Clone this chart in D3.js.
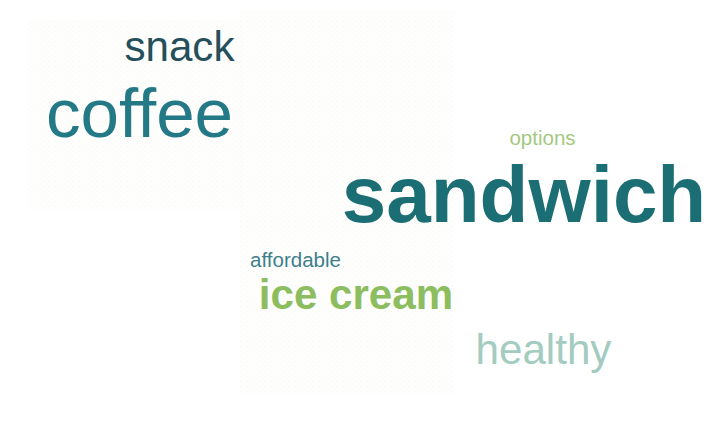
<!DOCTYPE html>
<html>
<head>
<meta charset="utf-8">
<script src="https://cdn.jsdelivr.net/npm/d3@7"></script>
<style>
  body { margin: 0; background: #fff; }
  #cloud { width: 710px; height: 423px; }
</style>
</head>
<body>
<div id="cloud"></div>
<script>
// word cloud data
let words = ["sandwich", "coffee", "snack", "ice cream", "healthy", "options", "affordable"]
let counts = [12, 10, 5, 5, 5, 1, 1]

// palette + weight per word
let wordColors = ["#1c6e75", "#237985", "#244f5b", "#8cbd5f", "#a3cbc0", "#a3c882", "#3d7f8d"]
let wordWeights = ["bold", "normal", "normal", "bold", "normal", "normal", "normal"]

// layout: centre x and baseline as a fraction of the canvas
let layoutX = [0.738, 0.1965, 0.2528, 0.5014, 0.7655, 0.7641, 0.4162]
let layoutY = [0.5248, 0.3239, 0.1442, 0.7305, 0.8605, 0.3428, 0.6312]

let width = 710, height = 423

let svg = d3.select("#cloud").append("svg")
    .attr("width", width)
    .attr("height", height)

// faint textured backdrop panels
let defs = svg.append("defs")
let pat = defs.append("pattern")
    .attr("id", "speckle")
    .attr("width", 6).attr("height", 5)
    .attr("patternUnits", "userSpaceOnUse")
pat.append("rect").attr("width", 6).attr("height", 5).attr("fill", "#fdfdfc")
pat.append("circle").attr("cx", 1.5).attr("cy", 1.5).attr("r", 0.6).attr("fill", "#f1f1ef")
pat.append("circle").attr("cx", 4.5).attr("cy", 4).attr("r", 0.5).attr("fill", "#f4f4f2")

svg.append("rect")
    .attr("x", 28).attr("y", 20).attr("width", 215).attr("height", 190)
    .attr("fill", "url(#speckle)").attr("opacity", 0.6)
svg.append("rect")
    .attr("x", 240).attr("y", 10).attr("width", 215).attr("height", 385)
    .attr("fill", "url(#speckle)").attr("opacity", 0.7)

let x = d3.scaleLinear().domain([0, 1]).range([0, width])
let y = d3.scaleLinear().domain([0, 1]).range([0, height])
let size = d3.scaleLinear().domain([1, 12]).range([20.5, 80])

let data = words.map(function (w, i) {
    return {text: w, count: counts[i], color: wordColors[i], weight: wordWeights[i], px: layoutX[i], py: layoutY[i]}
})

svg.append("g")
    .selectAll("text")
    .data(data)
    .enter().append("text")
    .attr("x", d => x(d.px))
    .attr("y", d => y(d.py))
    .attr("text-anchor", "middle")
    .attr("font-family", "'Liberation Sans', Arial, Helvetica, sans-serif")
    .attr("font-size", d => size(d.count))
    .attr("font-weight", d => d.weight)
    .attr("fill", d => d.color)
    .text(d => d.text)
</script>
</body>
</html>
